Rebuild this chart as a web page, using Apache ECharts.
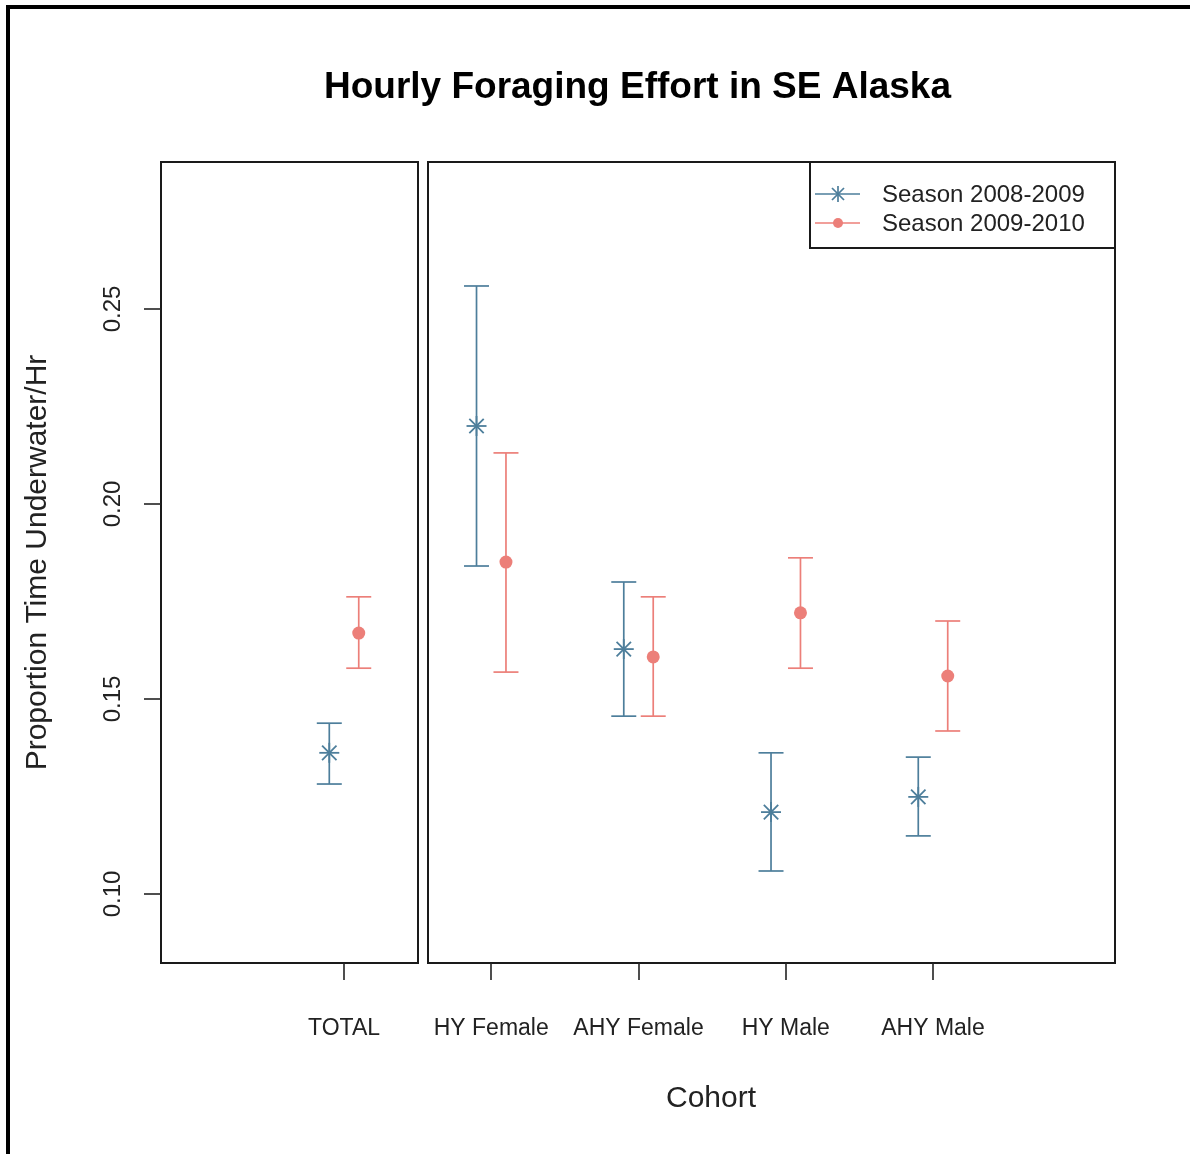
<!DOCTYPE html>
<html><head><meta charset="utf-8">
<script src="https://cdn.jsdelivr.net/npm/echarts@6/dist/echarts.min.js"></script>
<style>html,body{margin:0;padding:0;background:#fff}#c{width:1190px;height:1154px}</style>
</head><body><div id="c"></div>
<script>
const categories = ['TOTAL','HY Female','AHY Female','HY Male','AHY Male'];
const seasons = ['Season 2008-2009','Season 2009-2010'];
const mean0809  = [0.1362,0.2200,0.1628,0.1210,0.1249];
const lower0809 = [0.1282,0.1841,0.1456,0.1059,0.1149];
const upper0809 = [0.1438,0.2559,0.1800,0.1362,0.1351];
const mean0910  = [0.1669,0.1851,0.1608,0.1721,0.1559];
const lower0910 = [0.1579,0.1569,0.1456,0.1579,0.1418];
const upper0910 = [0.1762,0.2131,0.1762,0.1862,0.1700];
const yTicks = [0.10,0.15,0.20,0.25];

const BLUE = '#4d7e9b', RED = '#ec7f79', INK = '#222', FRAME = '#1a1a1a';
const FONT = '"Liberation Sans", Arial, sans-serif';
const positions = categories.map((c,i)=>i+1);

function rows(mean, lo, hi, offset, idxs){
  return idxs.map(i => [positions[i]+offset, mean[i], lo[i], hi[i]]);
}
function makeRender(kind, color){
  return function(params, api){
    const x = api.value(0), m = api.value(1), lo = api.value(2), hi = api.value(3);
    const pm = api.coord([x,m]), pl = api.coord([x,lo]), ph = api.coord([x,hi]);
    const cx = pm[0], cw = 12.5;
    const st = {stroke: color, lineWidth: 1.7};
    const ch = [
      {type:'line', shape:{x1:cx,y1:pl[1],x2:cx,y2:ph[1]}, style:st},
      {type:'line', shape:{x1:cx-cw,y1:ph[1],x2:cx+cw,y2:ph[1]}, style:st},
      {type:'line', shape:{x1:cx-cw,y1:pl[1],x2:cx+cw,y2:pl[1]}, style:st}
    ];
    if(kind==='star'){
      const r=10, d=7.2, s2={stroke:color, lineWidth:1.8};
      ch.push({type:'line', shape:{x1:cx-r,y1:pm[1],x2:cx+r,y2:pm[1]}, style:s2});
      ch.push({type:'line', shape:{x1:cx,y1:pm[1]-r,x2:cx,y2:pm[1]+r}, style:s2});
      ch.push({type:'line', shape:{x1:cx-d,y1:pm[1]-d,x2:cx+d,y2:pm[1]+d}, style:s2});
      ch.push({type:'line', shape:{x1:cx-d,y1:pm[1]+d,x2:cx+d,y2:pm[1]-d}, style:s2});
    } else {
      ch.push({type:'circle', shape:{cx:cx, cy:pm[1], r:6.5}, style:{fill:color}});
    }
    return {type:'group', children: ch};
  };
}

const leftIdx = [0], rightIdx = [1,2,3,4];
const yMin = 0.08231, yMax = 0.28769;

function xAxisDef(grid, min, max, idxs){
  const vals = idxs.map(i=>positions[i]);
  return {
    gridIndex: grid, type:'value', min:min, max:max,
    axisLine:{show:true, onZero:false, lineStyle:{color:FRAME, width:2}}, splitLine:{show:false},
    axisTick:{show:true, inside:false, length:17, customValues: vals, lineStyle:{color:INK, width:1.6}},
    axisLabel:{show:true, customValues: vals, margin:54, fontSize:23, color:INK, fontFamily:FONT,
      formatter: v => categories[Math.round(v)-1]}
  };
}

const option = {
  animation:false,
  backgroundColor:'#fff',
  grid:[
    {left:161, top:162, width:257, height:801, show:true, borderColor:FRAME, borderWidth:2, backgroundColor:'transparent'},
    {left:428, top:162, width:687, height:801, show:true, borderColor:FRAME, borderWidth:2, backgroundColor:'transparent'}
  ],
  xAxis:[
    xAxisDef(0, -0.243, 1.5025, leftIdx),
    xAxisDef(1, 1.5705, 6.236, rightIdx)
  ],
  yAxis:[
    {gridIndex:0, type:'value', min:yMin, max:yMax, position:'left',
     axisLine:{show:true, onZero:false, lineStyle:{color:FRAME, width:2}}, splitLine:{show:false},
     axisTick:{show:true, inside:false, length:17, customValues:yTicks, lineStyle:{color:INK, width:1.6}},
     axisLabel:{show:true, customValues:yTicks, rotate:90, margin:36, fontSize:24, color:INK, fontFamily:FONT,
       formatter: v => v.toFixed(2)},
     name:'Proportion Time Underwater/Hr', nameLocation:'middle', nameRotate:90, nameGap:108,
     nameTextStyle:{fontSize:30, color:INK, fontFamily:FONT}},
    {gridIndex:1, type:'value', min:yMin, max:yMax, show:false, splitLine:{show:false}}
  ],
  series:[
    {type:'custom', name:seasons[0], xAxisIndex:0, yAxisIndex:0, renderItem:makeRender('star',BLUE),
     encode:{x:0,y:[1,2,3]}, data: rows(mean0809, lower0809, upper0809, -0.1, leftIdx)},
    {type:'custom', name:seasons[1], xAxisIndex:0, yAxisIndex:0, renderItem:makeRender('dot',RED),
     encode:{x:0,y:[1,2,3]}, data: rows(mean0910, lower0910, upper0910, 0.1, leftIdx)},
    {type:'custom', name:seasons[0], xAxisIndex:1, yAxisIndex:1, renderItem:makeRender('star',BLUE),
     encode:{x:0,y:[1,2,3]}, data: rows(mean0809, lower0809, upper0809, -0.1, rightIdx)},
    {type:'custom', name:seasons[1], xAxisIndex:1, yAxisIndex:1, renderItem:makeRender('dot',RED),
     encode:{x:0,y:[1,2,3]}, data: rows(mean0910, lower0910, upper0910, 0.1, rightIdx)}
  ],
  graphic:[
    {type:'rect', shape:{x:8, y:7, width:1400, height:1400}, style:{fill:'none', stroke:'#000', lineWidth:4}, silent:true},
    {type:'text', x:637.5, y:88, style:{text:'Hourly Foraging Effort in SE Alaska', font:'bold 37px '+FONT, fill:'#000', align:'center', verticalAlign:'middle'}},
    {type:'text', x:711, y:1099, style:{text:'Cohort', font:'30px '+FONT, fill:INK, align:'center', verticalAlign:'middle'}},
    {type:'rect', z:10, shape:{x:810, y:162, width:305, height:86}, style:{fill:'#fff', stroke:FRAME, lineWidth:2}},
    {type:'line', z:11, shape:{x1:815,y1:194,x2:860,y2:194}, style:{stroke:BLUE, lineWidth:1.7}},
    {type:'line', z:11, shape:{x1:838,y1:186,x2:838,y2:202}, style:{stroke:BLUE, lineWidth:1.7}},
    {type:'line', z:11, shape:{x1:832,y1:188,x2:844,y2:200}, style:{stroke:BLUE, lineWidth:1.7}},
    {type:'line', z:11, shape:{x1:832,y1:200,x2:844,y2:188}, style:{stroke:BLUE, lineWidth:1.7}},
    {type:'line', z:11, shape:{x1:815,y1:223,x2:860,y2:223}, style:{stroke:RED, lineWidth:1.7}},
    {type:'circle', z:11, shape:{cx:838, cy:223, r:5}, style:{fill:RED}},
    {type:'text', z:11, x:882, y:195, style:{text:seasons[0], font:'24px '+FONT, fill:INK, align:'left', verticalAlign:'middle'}},
    {type:'text', z:11, x:882, y:224, style:{text:seasons[1], font:'24px '+FONT, fill:INK, align:'left', verticalAlign:'middle'}}
  ]
};
const chart = echarts.init(document.getElementById('c'), null, {renderer:'canvas'});
chart.setOption(option);
</script>
</body></html>
